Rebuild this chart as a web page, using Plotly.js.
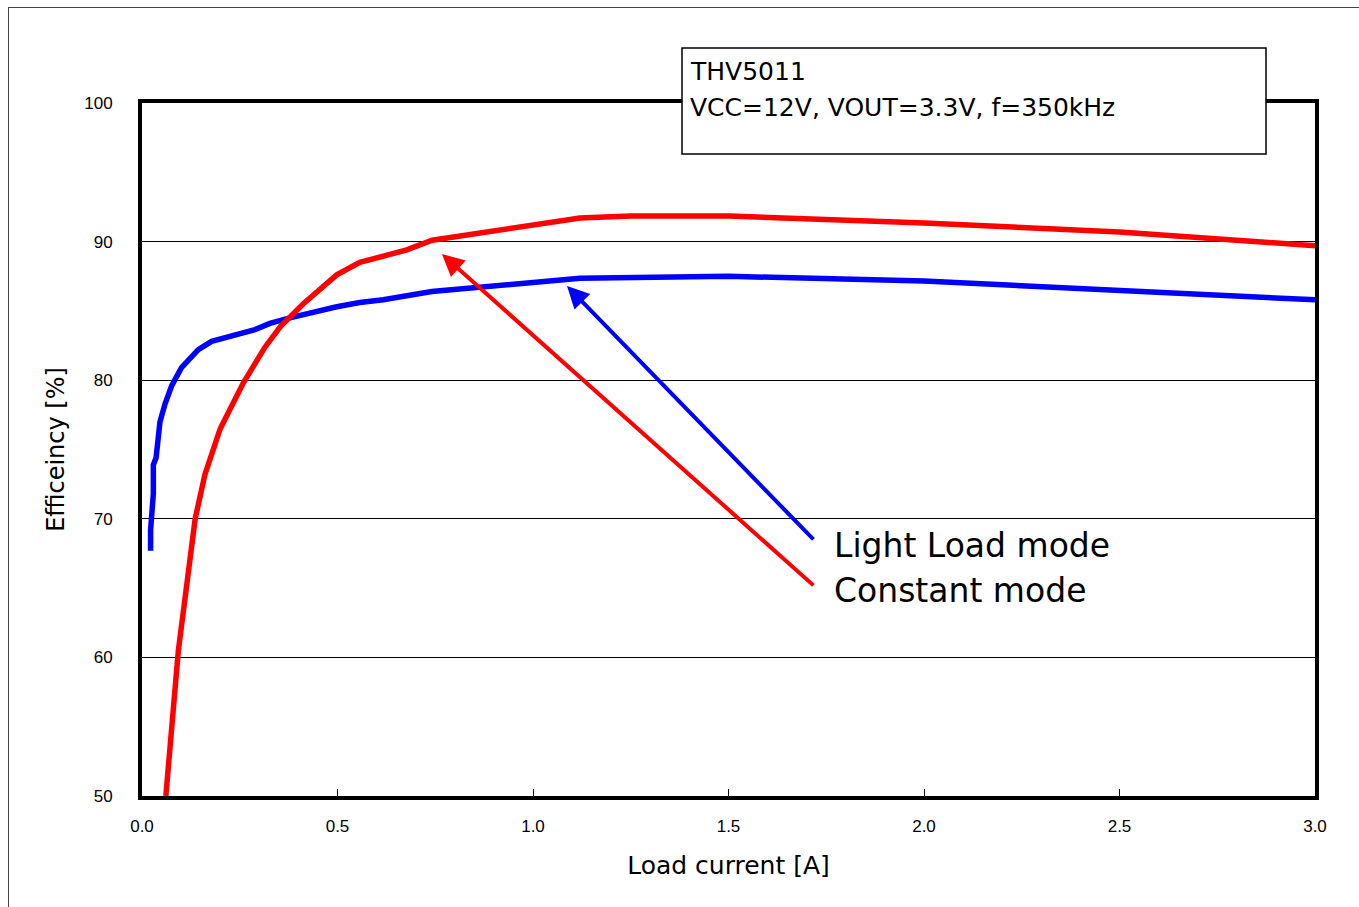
<!DOCTYPE html>
<html>
<head>
<meta charset="utf-8">
<script src="https://cdn.plot.ly/plotly-3.0.1.min.js"></script>
<style>
  html, body { margin: 0; padding: 0; background: #fff; }
  #wrap { position: relative; width: 1359px; height: 907px; }
  #chart { width: 1359px; height: 907px; }
  #frame { position: absolute; left: 8px; top: 7px; width: 1360px; height: 910px;
           border-left: 1.5px solid #444; border-top: 1.5px solid #444; pointer-events: none; }
</style>
</head>
<body>
<div id="wrap">
  <div id="chart"></div>
  <div id="frame"></div>
</div>
<script>
// Load current [A] and efficiency [%]
const constantX = [0.061, 0.072, 0.093, 0.136, 0.161, 0.200, 0.259, 0.315, 0.355, 0.412, 0.460, 0.498, 0.557, 0.677, 0.742, 1.00, 1.12, 1.25, 1.50, 2.00, 2.50, 3.00];
const constantY = [50.0, 54.0, 60.5, 70.0, 73.2, 76.5, 79.8, 82.4, 83.9, 85.5, 86.7, 87.6, 88.5, 89.4, 90.1, 91.2, 91.7, 91.85, 91.85, 91.35, 90.7, 89.7];

const lightX = [0.022, 0.022, 0.029, 0.029, 0.036, 0.046, 0.059, 0.076, 0.101, 0.144, 0.178, 0.225, 0.289, 0.327, 0.378, 0.498, 0.557, 0.617, 0.741, 1.12, 1.50, 2.00, 2.50, 3.00];
const lightY = [67.7, 69.2, 71.8, 73.9, 74.4, 77.0, 78.3, 79.6, 80.9, 82.2, 82.8, 83.2, 83.65, 84.1, 84.5, 85.3, 85.6, 85.8, 86.4, 87.35, 87.5, 87.15, 86.5, 85.8];

const xTicks = [0, 0.5, 1.0, 1.5, 2.0, 2.5, 3.0];
const xTickText = ["0.0", "0.5", "1.0", "1.5", "2.0", "2.5", "3.0"];
const yTicks = [50, 60, 70, 80, 90, 100];

const seriesNames = ["Light Load mode", "Constant mode"];
const infoLines = ["THV5011", "VCC=12V, VOUT=3.3V, f=350kHz"];
const xTitle = "Load current [A]";
const yTitle = "Efficeincy [%]";

// arrow anchor points (tail -> head) in data units
const lightArrow = { tail: [1.721, 68.4], head: [1.087, 86.8] };
const constArrow = { tail: [1.721, 65.1], head: [0.767, 89.1] };

const labelFont = "Tahoma, 'DejaVu Sans', 'Noto Sans', sans-serif";
const tickFont = "'Liberation Sans Narrow', 'Arial Narrow', 'Liberation Sans', Arial, sans-serif";

const traces = [
  { x: lightX, y: lightY, type: "scatter", mode: "lines", name: seriesNames[0],
    line: { color: "#0000ff", width: 5.5 }, hoverinfo: "skip" },
  { x: constantX, y: constantY, type: "scatter", mode: "lines", name: seriesNames[1],
    line: { color: "#ff0000", width: 5.5 }, hoverinfo: "skip" }
];

const layout = {
  width: 1359, height: 907,
  margin: { l: 142, r: 44, t: 103, b: 111, pad: 0 },
  paper_bgcolor: "#ffffff", plot_bgcolor: "#ffffff",
  showlegend: false,
  xaxis: {
    range: [0, 3], tickvals: xTicks, ticktext: xTickText,
    showgrid: false, zeroline: false,
    showline: true, linecolor: "#000", linewidth: 4, mirror: true,
    ticks: "inside", ticklen: 7, tickcolor: "#000", tickwidth: 1,
    ticklabelstandoff: 12,
    tickfont: { family: tickFont, size: 17, color: "#000" },
    title: { text: xTitle, font: { family: labelFont, size: 25, color: "#000" }, standoff: 22 },
    fixedrange: true
  },
  yaxis: {
    range: [50, 100], tickvals: yTicks,
    showgrid: true, gridcolor: "#000", gridwidth: 1, zeroline: false,
    showline: true, linecolor: "#000", linewidth: 4, mirror: true,
    ticks: "", ticklabelstandoff: 22,
    tickfont: { family: tickFont, size: 17, color: "#000" },
    title: { text: yTitle, font: { family: labelFont, size: 24, color: "#000" }, standoff: 14 },
    fixedrange: true
  },
  shapes: [
    // white patch behind the series labels (interrupts grid line)
    { type: "rect", xref: "x", yref: "y", x0: 1.721, x1: 2.803, y0: 63.0, y1: 70.4,
      fillcolor: "#ffffff", line: { width: 0 }, layer: "below" },
    // info box
    { type: "rect", xref: "paper", yref: "paper",
      x0: (682 - 142) / 1173, x1: (1266 - 142) / 1173,
      y0: (796 - 154) / 693, y1: (796 - 48) / 693,
      fillcolor: "#ffffff", line: { color: "#000", width: 1.5 }, layer: "above" }
  ],
  annotations: [
    { xref: "paper", yref: "paper", x: (688 - 142) / 1173, y: (796 - 71) / 693,
      xanchor: "left", yanchor: "middle", showarrow: false, text: infoLines[0],
      font: { family: labelFont, size: 25, color: "#000" } },
    { xref: "paper", yref: "paper", x: (688 - 142) / 1173, y: (796 - 107) / 693,
      xanchor: "left", yanchor: "middle", showarrow: false, text: infoLines[1],
      font: { family: labelFont, size: 25, color: "#000" } },
    { xref: "x", yref: "y", axref: "x", ayref: "y",
      x: lightArrow.head[0], y: lightArrow.head[1], ax: lightArrow.tail[0], ay: lightArrow.tail[1],
      showarrow: true, arrowhead: 2, arrowsize: 1.1, arrowwidth: 4, arrowcolor: "#0000ff", text: "" },
    { xref: "x", yref: "y", axref: "x", ayref: "y",
      x: constArrow.head[0], y: constArrow.head[1], ax: constArrow.tail[0], ay: constArrow.tail[1],
      showarrow: true, arrowhead: 2, arrowsize: 1.1, arrowwidth: 4, arrowcolor: "#ff0000", text: "" },
    { xref: "x", yref: "y", x: (832 - 142) / 391, y: 50 + (796 - 545) / 13.86,
      xanchor: "left", yanchor: "middle", showarrow: false, text: seriesNames[0],
      font: { family: labelFont, size: 33, color: "#000" } },
    { xref: "x", yref: "y", x: (832 - 142) / 391, y: 50 + (796 - 590) / 13.86,
      xanchor: "left", yanchor: "middle", showarrow: false, text: seriesNames[1],
      font: { family: labelFont, size: 33, color: "#000" } }
  ]
};

Plotly.newPlot("chart", traces, layout, { displayModeBar: false, staticPlot: true });
</script>
</body>
</html>
